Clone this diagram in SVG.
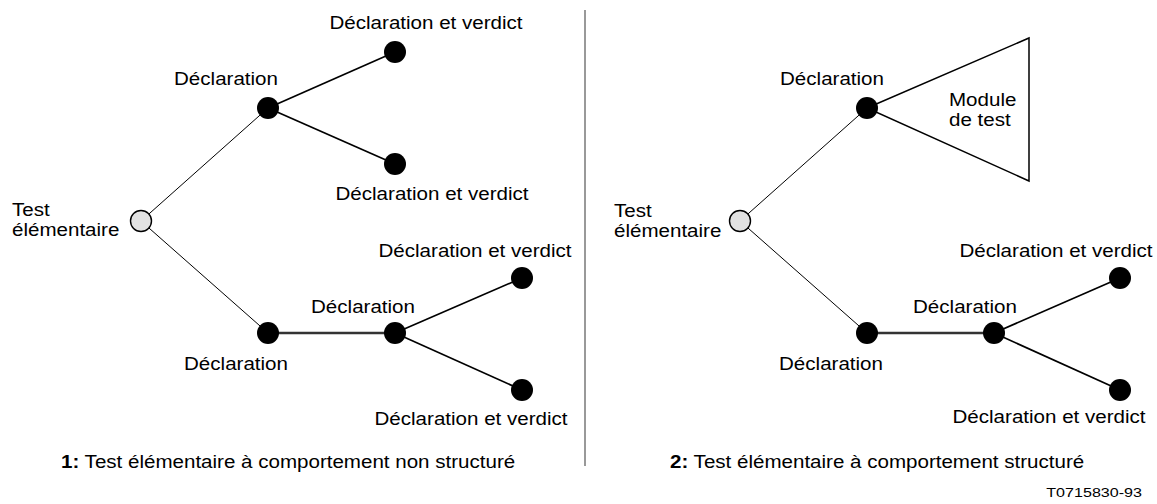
<svg xmlns="http://www.w3.org/2000/svg" width="1157" height="504" viewBox="0 0 1157 504">
  <style>
    text { font-family: "Liberation Sans", Arial, sans-serif; font-size: 17.5px; fill: #000; }
    .mid { text-anchor: middle; }
    .ref { font-size: 13.7px; text-anchor: end; }
    .stem { stroke: #000; stroke-width: 1; fill: none; }
    .edge { stroke: #000; stroke-width: 1.7; fill: none; }
    .link { stroke: #333; stroke-width: 2.3; fill: none; }
    .leaf { fill: #000; }
    .root { fill: #e2e2e2; stroke: #000; stroke-width: 1.4; }
  </style>
  <rect width="1157" height="504" fill="#fff"/>

  <!-- separator between the two cases -->
  <line x1="585" y1="10" x2="585" y2="466" stroke="#777" stroke-width="1.5"/>

  <g id="connectors">
    <!-- case 1 -->
    <line class="stem" x1="141" y1="221" x2="268" y2="108"/>
    <line class="stem" x1="141" y1="221" x2="268" y2="333"/>
    <line class="edge" x1="268" y1="108" x2="395" y2="52"/>
    <line class="edge" x1="268" y1="108" x2="395" y2="164"/>
    <line class="link" x1="268" y1="333" x2="395" y2="333"/>
    <line class="edge" x1="395" y1="333" x2="522" y2="278"/>
    <line class="edge" x1="395" y1="333" x2="522" y2="390"/>
    <!-- case 2 -->
    <line class="stem" x1="740" y1="221" x2="867" y2="108"/>
    <line class="stem" x1="740" y1="221" x2="867" y2="333"/>
    <line class="link" x1="867" y1="333" x2="994" y2="333"/>
    <line class="edge" x1="994" y1="333" x2="1120" y2="278"/>
    <line class="edge" x1="994" y1="333" x2="1120" y2="390"/>
  </g>

  <!-- case 1: unstructured behaviour -->
  <g id="c1-root">
    <circle class="root" cx="141" cy="221" r="10.5"/>
    <text transform="translate(12 216) scale(1.175 1)">Test</text>
    <text transform="translate(12 236) scale(1.175 1)">élémentaire</text>
  </g>
  <g id="c1-decl-top">
    <circle class="leaf" cx="268" cy="108" r="11"/>
    <text class="mid" transform="translate(226 85) scale(1.175 1)">Déclaration</text>
  </g>
  <g id="c1-leaf-1">
    <circle class="leaf" cx="395" cy="52" r="11"/>
    <text class="mid" transform="translate(426 29) scale(1.175 1)">Déclaration et verdict</text>
  </g>
  <g id="c1-leaf-2">
    <circle class="leaf" cx="395" cy="164" r="11"/>
    <text class="mid" transform="translate(432 200) scale(1.175 1)">Déclaration et verdict</text>
  </g>
  <g id="c1-decl-low">
    <circle class="leaf" cx="268" cy="333" r="11"/>
    <text class="mid" transform="translate(236 370) scale(1.175 1)">Déclaration</text>
  </g>
  <g id="c1-decl-mid">
    <circle class="leaf" cx="395" cy="333" r="11"/>
    <text class="mid" transform="translate(363 313) scale(1.175 1)">Déclaration</text>
  </g>
  <g id="c1-leaf-3">
    <circle class="leaf" cx="522" cy="278" r="11"/>
    <text class="mid" transform="translate(475 257) scale(1.175 1)">Déclaration et verdict</text>
  </g>
  <g id="c1-leaf-4">
    <circle class="leaf" cx="522" cy="390" r="11"/>
    <text class="mid" transform="translate(471 425) scale(1.175 1)">Déclaration et verdict</text>
  </g>
  <text transform="translate(61 468) scale(1.175 1)"><tspan font-weight="bold">1:</tspan> Test élémentaire à comportement non structuré</text>

  <!-- case 2: structured behaviour -->
  <g id="c2-root">
    <circle class="root" cx="740" cy="221" r="10.5"/>
    <text transform="translate(614 217) scale(1.175 1)">Test</text>
    <text transform="translate(614 237) scale(1.175 1)">élémentaire</text>
  </g>
  <g id="c2-decl-top">
    <polygon points="867,108 1029,38 1029,181" fill="#fff" stroke="#000" stroke-width="1.5"/>
    <circle class="leaf" cx="867" cy="108" r="11"/>
    <text class="mid" transform="translate(832 85) scale(1.175 1)">Déclaration</text>
    <text transform="translate(949 106) scale(1.175 1)">Module</text>
    <text transform="translate(949 126) scale(1.175 1)">de test</text>
  </g>
  <g id="c2-decl-low">
    <circle class="leaf" cx="867" cy="333" r="11"/>
    <text class="mid" transform="translate(831 370) scale(1.175 1)">Déclaration</text>
  </g>
  <g id="c2-decl-mid">
    <circle class="leaf" cx="994" cy="333" r="11"/>
    <text class="mid" transform="translate(965 313) scale(1.175 1)">Déclaration</text>
  </g>
  <g id="c2-leaf-1">
    <circle class="leaf" cx="1120" cy="278" r="11"/>
    <text class="mid" transform="translate(1056 257) scale(1.175 1)">Déclaration et verdict</text>
  </g>
  <g id="c2-leaf-2">
    <circle class="leaf" cx="1120" cy="390" r="11"/>
    <text class="mid" transform="translate(1049 423) scale(1.175 1)">Déclaration et verdict</text>
  </g>
  <text transform="translate(670 468) scale(1.175 1)"><tspan font-weight="bold">2:</tspan> Test élémentaire à comportement structuré</text>

  <text class="ref" transform="translate(1142 497) scale(1.175 1)">T0715830-93</text>
</svg>
